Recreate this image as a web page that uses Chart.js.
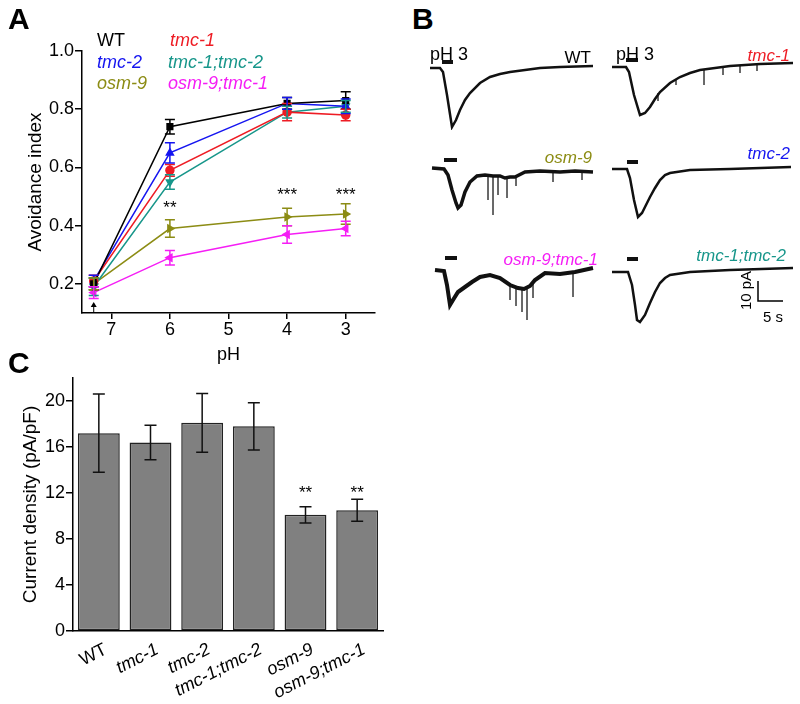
<!DOCTYPE html>
<html>
<head>
<meta charset="utf-8">
<script src="https://cdn.jsdelivr.net/npm/chart.js@4.4.1/dist/chart.umd.min.js"></script>
<style>
  body { margin: 0; background: #fff; }
  #fig { position: relative; width: 800px; height: 704px; overflow: hidden; font-family: "Liberation Sans", Arial, sans-serif; }
  #fig canvas { position: absolute; }
  .t { position: absolute; white-space: nowrap; line-height: 1; }
</style>
</head>
<body>
<div id="fig"></div>
<script>
const FONT = '"Liberation Sans", Arial, sans-serif';

// ---- Panel A: avoidance index vs pH ----
const phValues = [7.3, 6, 4, 3];
const phTicks = [7, 6, 5, 4, 3];
const avoidTicks = [0.2, 0.4, 0.6, 0.8, 1.0];

const wtAI = [0.20, 0.74, 0.82, 0.83];
const wtErr = [0.02, 0.025, 0.02, 0.03];
const tmc1AI = [0.21, 0.59, 0.79, 0.78];
const tmc1Err = [0.02, 0.02, 0.03, 0.02];
const tmc2AI = [0.21, 0.65, 0.82, 0.81];
const tmc2Err = [0.02, 0.035, 0.02, 0.025];
const tmc12AI = [0.19, 0.55, 0.79, 0.81];
const tmc12Err = [0.03, 0.025, 0.02, 0.02];
const osm9AI = [0.20, 0.39, 0.43, 0.44];
const osm9Err = [0.02, 0.03, 0.03, 0.035];
const osm9tmc1AI = [0.17, 0.29, 0.37, 0.39];
const osm9tmc1Err = [0.02, 0.025, 0.03, 0.025];

const starPh = [6, 4, 3];
const starAI = [0.46, 0.505, 0.505];
const starText = ['**', '***', '***'];

// ---- Panel C: current density ----
const strains = ['WT', 'tmc-1', 'tmc-2', 'tmc-1;tmc-2', 'osm-9', 'osm-9;tmc-1'];
const densityValues = [17.2, 16.4, 18.1, 17.8, 10.1, 10.5];
const densityErr = [3.4, 1.5, 2.55, 2.05, 0.7, 0.95];
const densityTicks = [0, 4, 8, 12, 16, 20];
const densityStars = ['', '', '', '', '**', '**'];

// ---- Panel B: pH 3 evoked currents (time in s, current in pA) ----
const wtTime = [0.4, 2.4, 3.0, 3.8, 4.8, 5.6, 6.4, 7.4, 8.4, 10.4, 12.4, 14.4, 16.4, 19.4, 22.4, 26.4, 33];
const wtCurrent = [0, 0, -2, -13.5, -29.5, -26, -21, -16, -12.5, -7.5, -4.5, -3, -2, -1, 0, 0.5, 1];
const tmc1Time = [0.4, 3.2, 3.8, 4.8, 6, 7, 8, 9, 10, 12, 14, 16, 18, 21, 24, 30, 36.6];
const tmc1Current = [0, 0, -2.5, -14, -24, -23, -20, -16, -12.5, -8, -5, -3, -1.5, -0.5, 0.5, 1.5, 2];
const osm9Time = [0.8, 3.2, 4, 4.8, 5.6, 6, 6.6, 7.4, 8.4, 9.8, 11.4, 13, 14.4, 15.4, 16.4, 17.4, 19.4, 22.4, 26.4, 29.4, 33];
const osm9Current = [0, -0.5, -3.5, -11, -17.5, -20, -18.5, -12, -7, -4, -3.5, -4, -4, -5, -4.5, -4.5, -2, -1.5, -2, -1.5, -2];
const tmc2Time = [0.4, 3.4, 4, 4.8, 5.6, 6.4, 7.2, 8, 9, 10, 11, 12, 16, 24, 36.2];
const tmc2Current = [0, 0, -4.5, -15.5, -24, -22, -18, -14, -9.5, -5.5, -3, -2, -0.5, 0, 1];
const osm9tmc1Time = [1.4, 3.2, 3.8, 4.4, 5, 6, 7.4, 8.8, 10.4, 12.4, 14.4, 16.4, 18, 19.2, 20.4, 21.4, 23.4, 26.4, 29.4, 33];
const osm9tmc1Current = [0, -0.5, -7.5, -17.5, -15, -11, -8.5, -6, -3.5, -2.5, -4, -7.5, -9, -9.5, -8, -5, -1.5, -2, -1, 1];
const tmc12Time = [0.4, 3.6, 4.4, 5, 5.4, 6, 7, 8, 9, 10, 11, 12, 16, 24, 36.6];
const tmc12Current = [0, 0, -6.5, -16.5, -24, -25, -21.5, -15.5, -10, -5.5, -3, -1.5, 0, 1, 2];

// brief downward spikes riding on the traces: time, start level, tip level
const tmc1SpikeTime = [9.6, 13.2, 18.8, 22.6, 26, 29.4];
const tmc1SpikeTop = [-13, -6, -1.2, 0, 1, 1.5];
const tmc1SpikeTip = [-17, -9, -9, -4, -3, -2];
const osm9SpikeTime = [12, 13, 14, 15.8, 17.6, 25, 30.8];
const osm9SpikeTop = [-3.5, -4, -4, -5, -4.5, -2, -1.5];
const osm9SpikeTip = [-16, -23.5, -13.5, -15, -9, -7, -6];
const osm9tmc1SpikeTime = [16.4, 17.6, 18.8, 19.8, 21, 29];
const osm9tmc1SpikeTop = [-7.5, -9, -9, -9.5, -6, -1];
const osm9tmc1SpikeTip = [-15, -18, -21, -25, -14, -13.5];

// stimulus bars: [start s, end s, level pA]
const wtStim = [2.8, 5.0, 3];
const tmc1Stim = [3.2, 5.6, 3.5];
const osm9Stim = [3.2, 5.8, 4];
const tmc2Stim = [3.4, 5.6, 3.5];
const osm9tmc1Stim = [3.4, 5.8, 6];
const tmc12Stim = [3.4, 5.6, 6.5];

const scaleBarTime = [29.6, 29.6, 34.6];
const scaleBarCurrent = [-4.5, -14.5, -14.5];

const fig = document.getElementById('fig');

function addCanvas(left, top, w, h) {
  const c = document.createElement('canvas');
  c.width = w; c.height = h;
  c.style.left = left + 'px'; c.style.top = top + 'px';
  c.style.width = w + 'px'; c.style.height = h + 'px';
  fig.appendChild(c);
  return c;
}

function addText(text, x, cy, size, color, opts = {}) {
  const d = document.createElement('div');
  d.className = 't';
  d.textContent = text;
  d.style.fontSize = size + 'px';
  d.style.color = color;
  d.style.top = (cy - size / 2) + 'px';
  d.style.left = x + 'px';
  if (opts.italic) d.style.fontStyle = 'italic';
  if (opts.bold) d.style.fontWeight = 'bold';
  let tr = '';
  if (opts.right) tr += 'translateX(-100%) ';
  if (opts.rotate) tr += 'rotate(' + opts.rotate + 'deg)';
  if (tr) d.style.transform = tr;
  fig.appendChild(d);
  return d;
}

// error bars for line and bar charts
const errorBars = {
  id: 'errorBars',
  afterDatasetsDraw(chart) {
    const { ctx } = chart;
    const y = chart.scales.y;
    chart.data.datasets.forEach((ds, di) => {
      if (!ds.errors) return;
      const meta = chart.getDatasetMeta(di);
      ctx.save();
      ctx.strokeStyle = ds.errorColor || ds.borderColor;
      ctx.lineWidth = 1.5;
      meta.data.forEach((el, i) => {
        const d = ds.data[i];
        const v = typeof d === 'object' ? d.y : d;
        const top = y.getPixelForValue(v + ds.errors[i]);
        const bot = y.getPixelForValue(v - ds.errors[i]);
        const cw = ds.capHalf || 4;
        ctx.beginPath();
        ctx.moveTo(el.x, top); ctx.lineTo(el.x, bot);
        ctx.moveTo(el.x - cw, top); ctx.lineTo(el.x + cw, top);
        ctx.moveTo(el.x - cw, bot); ctx.lineTo(el.x + cw, bot);
        ctx.stroke();
      });
      ctx.restore();
    });
  }
};

// ---------- Panel A ----------
const seriesA = [
  { name: 'WT', values: wtAI, err: wtErr, color: '#000000', marker: 'rect', rot: 0 },
  { name: 'tmc-1', values: tmc1AI, err: tmc1Err, color: '#ee1c24', marker: 'circle', rot: 0 },
  { name: 'tmc-2', values: tmc2AI, err: tmc2Err, color: '#1515f0', marker: 'triangle', rot: 0 },
  { name: 'tmc-1;tmc-2', values: tmc12AI, err: tmc12Err, color: '#17968a', marker: 'triangle', rot: 180 },
  { name: 'osm-9', values: osm9AI, err: osm9Err, color: '#8c8c14', marker: 'triangle', rot: 90 },
  { name: 'osm-9;tmc-1', values: osm9tmc1AI, err: osm9tmc1Err, color: '#f51ef5', marker: 'triangle', rot: -90 }
];

const annotA = {
  id: 'annotA',
  afterDraw(chart) {
    const { ctx, scales: { x, y } } = chart;
    ctx.save();
    ctx.fillStyle = '#000';
    ctx.font = '17px ' + FONT;
    ctx.textAlign = 'center';
    ctx.textBaseline = 'middle';
    starPh.forEach((p, i) => ctx.fillText(starText[i], x.getPixelForValue(p), y.getPixelForValue(starAI[i])));
    // arrow marking the control pH
    const ax = x.getPixelForValue(phValues[0]);
    const ab = y.bottom - 1;
    ctx.strokeStyle = '#000'; ctx.lineWidth = 1;
    ctx.beginPath(); ctx.moveTo(ax, ab); ctx.lineTo(ax, ab - 8); ctx.stroke();
    ctx.beginPath(); ctx.moveTo(ax - 3, ab - 5); ctx.lineTo(ax, ab - 10); ctx.lineTo(ax + 3, ab - 5); ctx.closePath(); ctx.fill();
    ctx.restore();
  }
};

new Chart(addCanvas(0, 0, 400, 370), {
  type: 'line',
  data: {
    datasets: seriesA.map(s => ({
      label: s.name,
      data: phValues.map((p, i) => ({ x: p, y: s.values[i] })),
      borderColor: s.color,
      backgroundColor: s.color,
      pointStyle: s.marker,
      pointRotation: s.rot,
      pointRadius: 4,
      borderWidth: 1.5,
      errors: s.err,
      capHalf: 5
    }))
  },
  options: {
    responsive: false,
    animation: false,
    layout: { padding: { left: 0, top: 51, right: 25, bottom: 0 } },
    plugins: { legend: { display: false }, tooltip: { enabled: false } },
    scales: {
      x: {
        type: 'linear', reverse: true, min: 2.5, max: 7.5,
        afterBuildTicks: sc => { sc.ticks = phTicks.map(v => ({ value: v })); },
        afterFit: sc => { sc.height = 57; },
        grid: { drawOnChartArea: false, color: '#000', tickLength: 6, lineWidth: 1.5 },
        border: { color: '#000', width: 1.5 },
        ticks: { color: '#000', font: { size: 18, family: FONT }, padding: 0 },
        title: { display: true, text: 'pH', color: '#000', font: { size: 18, family: FONT }, padding: { top: 5 } }
      },
      y: {
        min: 0.1, max: 1.0,
        afterBuildTicks: sc => { sc.ticks = avoidTicks.map(v => ({ value: v })); },
        afterFit: sc => { sc.width = 82; },
        grid: { drawOnChartArea: false, color: '#000', tickLength: 7, lineWidth: 1.5 },
        border: { color: '#000', width: 1.5 },
        ticks: { color: '#000', font: { size: 18, family: FONT }, padding: 1, callback: v => v.toFixed(1) },
        title: { display: true, text: 'Avoidance index', color: '#000', font: { size: 19, family: FONT }, padding: { top: 24 } }
      }
    }
  },
  plugins: [errorBars, annotA]
});

// ---------- Panel C ----------
const annotC = {
  id: 'annotC',
  afterDraw(chart) {
    const { ctx, scales: { x, y } } = chart;
    ctx.save();
    ctx.fillStyle = '#000';
    ctx.font = '17px ' + FONT;
    ctx.textAlign = 'center';
    ctx.textBaseline = 'middle';
    densityStars.forEach((s, i) => {
      if (s) ctx.fillText(s, x.getPixelForValue(i), y.getPixelForValue(12.0));
    });
    ctx.restore();
  }
};

new Chart(addCanvas(0, 330, 400, 374), {
  type: 'bar',
  data: {
    labels: strains,
    datasets: [{
      data: densityValues,
      backgroundColor: '#808080',
      borderColor: '#222',
      borderWidth: 1.5,
      borderSkipped: false,
      barPercentage: 0.81,
      categoryPercentage: 1,
      errors: densityErr,
      errorColor: '#111',
      capHalf: 6
    }]
  },
  options: {
    responsive: false,
    animation: false,
    layout: { padding: { left: 0, top: 48, right: 17, bottom: 0 } },
    plugins: { legend: { display: false }, tooltip: { enabled: false } },
    scales: {
      x: {
        afterFit: sc => { sc.height = 73; },
        grid: { display: false },
        border: { color: '#000', width: 1.5 },
        ticks: {
          color: '#000', minRotation: 27, maxRotation: 27, autoSkip: false, padding: 0, labelOffset: 7,
          font: c => ({ size: 18, family: FONT, style: c.index === 0 ? 'normal' : 'italic' })
        }
      },
      y: {
        min: 0, max: 22,
        afterBuildTicks: sc => { sc.ticks = densityTicks.map(v => ({ value: v })); },
        afterFit: sc => { sc.width = 73; },
        grid: { drawOnChartArea: false, color: '#000', tickLength: 7, lineWidth: 1.5 },
        border: { color: '#000', width: 1.5 },
        ticks: { color: '#000', font: { size: 18, family: FONT }, padding: 1 },
        title: { display: true, text: 'Current density (pA/pF)', color: '#000', font: { size: 19, family: FONT }, padding: { top: 19 } }
      }
    }
  },
  plugins: [errorBars, annotC]
});

// ---------- Panel B ----------
function pts(xs, ys) { return xs.map((v, i) => ({ x: v, y: ys[i] })); }

function spikePts(ts, tops, tips) {
  const out = [];
  ts.forEach((t, i) => {
    out.push({ x: t, y: tops[i] }, { x: t, y: tips[i] }, { x: t, y: null });
  });
  return out;
}

function traceChart(left, baseY, times, currents, stim, width, spikes, extra) {
  const datasets = [
    { data: pts(times, currents), borderColor: '#111', borderWidth: width, pointRadius: 0, showLine: true },
    { data: pts([stim[0], stim[1]], [stim[2], stim[2]]), borderColor: '#111', borderWidth: 4, pointRadius: 0, showLine: true }
  ];
  if (spikes) datasets.push({ data: spikes, borderColor: '#555', borderWidth: 1, pointRadius: 0, showLine: true, spanGaps: false });
  if (extra) datasets.push(extra);
  new Chart(addCanvas(left, baseY - 16, 185, 78), {
    type: 'scatter',
    data: { datasets },
    options: {
      responsive: false,
      animation: false,
      layout: { padding: 0 },
      plugins: { legend: { display: false }, tooltip: { enabled: false } },
      scales: {
        x: { type: 'linear', display: false, min: 0, max: 37 },
        y: { type: 'linear', display: false, min: -31, max: 8 }
      }
    }
  });
}

traceChart(428, 68, wtTime, wtCurrent, wtStim, 2.5);
traceChart(610, 67, tmc1Time, tmc1Current, tmc1Stim, 2.5, spikePts(tmc1SpikeTime, tmc1SpikeTop, tmc1SpikeTip));
traceChart(428, 168, osm9Time, osm9Current, osm9Stim, 3.5, spikePts(osm9SpikeTime, osm9SpikeTop, osm9SpikeTip));
traceChart(610, 169, tmc2Time, tmc2Current, tmc2Stim, 2.5);
traceChart(428, 270, osm9tmc1Time, osm9tmc1Current, osm9tmc1Stim, 4, spikePts(osm9tmc1SpikeTime, osm9tmc1SpikeTop, osm9tmc1SpikeTip));
traceChart(610, 272, tmc12Time, tmc12Current, tmc12Stim, 2.5, null,
  { data: pts(scaleBarTime, scaleBarCurrent), borderColor: '#000', borderWidth: 1.5, pointRadius: 0, showLine: true });

// ---------- text ----------
addText('A', 8, 19, 30, '#000', { bold: true });
addText('B', 412, 19, 30, '#000', { bold: true });
addText('C', 8, 363, 30, '#000', { bold: true });

addText('WT', 97, 40, 18, '#000');
addText('tmc-1', 170, 40, 18, seriesA[1].color, { italic: true });
addText('tmc-2', 97, 62, 18, seriesA[2].color, { italic: true });
addText('tmc-1;tmc-2', 168, 62, 18, seriesA[3].color, { italic: true });
addText('osm-9', 97, 83, 18, seriesA[4].color, { italic: true });
addText('osm-9;tmc-1', 168, 83, 18, seriesA[5].color, { italic: true });

addText('pH 3', 430, 54, 18, '#000');
addText('pH 3', 616, 54, 18, '#000');
addText('WT', 591, 57, 17, '#000', { right: true });
addText('tmc-1', 790, 55, 17, seriesA[1].color, { italic: true, right: true });
addText('osm-9', 592, 157, 17, seriesA[4].color, { italic: true, right: true });
addText('tmc-2', 790, 153, 17, seriesA[2].color, { italic: true, right: true });
addText('osm-9;tmc-1', 598, 259, 17, seriesA[5].color, { italic: true, right: true });
addText('tmc-1;tmc-2', 786, 255, 17, seriesA[3].color, { italic: true, right: true });

addText('10 pA', 726, 290, 15, '#000', { rotate: -90 });
addText('5 s', 763, 316, 15, '#000');
</script>
</body>
</html>
